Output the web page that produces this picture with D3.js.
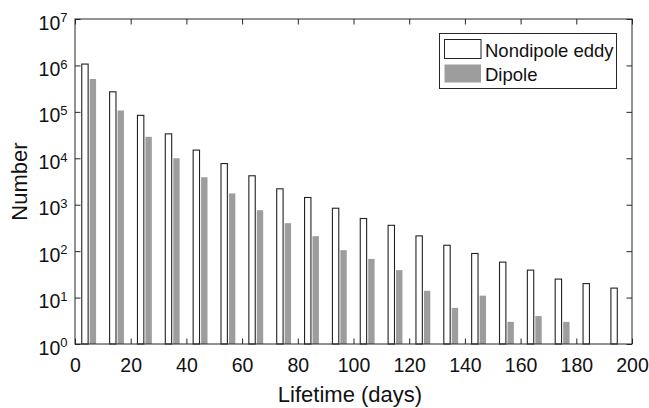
<!DOCTYPE html>
<html>
<head>
<meta charset="utf-8">
<script src="https://cdn.jsdelivr.net/npm/d3@7"></script>
<style>
  body { margin: 0; background: #fff; }
  svg { display: block; font-family: "Liberation Sans", Arial, sans-serif; }
</style>
</head>
<body>
<svg id="chart" width="649" height="408"></svg>
<script>
// Bin centres (days)
const binCenters = [5, 15, 25, 35, 45, 55, 65, 75, 85, 95, 105, 115, 125, 135, 145, 155, 165, 175, 185, 195];
// Counts per lifetime bin
const nondipole = [1070000, 270000, 84000, 33600, 15000, 7700, 4200, 2200, 1430, 840, 505, 360, 213, 134, 89, 58, 39, 25, 20, 16];
const dipole = [510000, 107000, 29000, 10000, 3900, 1750, 760, 400, 210, 105, 68, 39, 14, 6, 11, 3, 4, 3, 0, 0];
const seriesNames = ["Nondipole eddy", "Dipole"];
const xTicks = [0, 20, 40, 60, 80, 100, 120, 140, 160, 180, 200];
const yTickExps = [0, 1, 2, 3, 4, 5, 6, 7];

const svg = d3.select("#chart");
const L = 75, R = 632, T = 19, B = 344;
const axisColor = "#262626";
const textColor = "#111";
const fontFam = "'Liberation Sans', Arial, sans-serif";

const x = d3.scaleLinear().domain([0, 200]).range([L, R]);
const y = d3.scaleLog().domain([1, 1e7]).range([B, T]);

// bars
const offset = 1.43, bw = 2.29;
const barData = [];
binCenters.forEach((c, i) => {
  barData.push({ s: 0, c: c - offset, v: nondipole[i] });
  barData.push({ s: 1, c: c + offset, v: dipole[i] });
});
svg.append("g").selectAll("rect").data(barData.filter(d => d.v > 0)).join("rect")
  .attr("x", d => x(d.c - bw / 2))
  .attr("width", d => x(bw) - x(0))
  .attr("y", d => y(d.v))
  .attr("height", d => y(1) - y(d.v))
  .attr("fill", d => d.s === 0 ? "#fff" : "#9d9d9d")
  .attr("stroke", d => d.s === 0 ? "#222" : "none")
  .attr("stroke-width", 1.1);

// frame
svg.append("rect").attr("x", L).attr("y", T).attr("width", R - L).attr("height", B - T)
  .attr("fill", "none").attr("stroke", axisColor).attr("stroke-width", 1);

// axes with inward ticks
const tickLen = 5.5;
const xb = svg.append("g").attr("transform", `translate(0,${B})`)
  .call(d3.axisBottom(x).tickValues(xTicks).tickSizeInner(-tickLen).tickSizeOuter(0));
const xt = svg.append("g").attr("transform", `translate(0,${T})`)
  .call(d3.axisTop(x).tickValues(xTicks).tickSizeInner(-tickLen).tickSizeOuter(0).tickFormat(""));
const yl = svg.append("g").attr("transform", `translate(${L},0)`)
  .call(d3.axisLeft(y).tickValues(yTickExps.map(e => Math.pow(10, e))).tickSizeInner(-tickLen).tickSizeOuter(0).tickFormat(""));
const yr = svg.append("g").attr("transform", `translate(${R},0)`)
  .call(d3.axisRight(y).tickValues(yTickExps.map(e => Math.pow(10, e))).tickSizeInner(-tickLen).tickSizeOuter(0).tickFormat(""));
[xb, xt, yl, yr].forEach(g => {
  g.attr("font-family", fontFam);
  g.select(".domain").remove();
  g.selectAll(".tick line").attr("stroke", axisColor);
});
xb.selectAll(".tick text").attr("font-size", 19.5).attr("fill", textColor)
  .attr("dy", "0").attr("y", 28.4);

// y tick labels 10^n
const ylab = svg.append("g").attr("font-family", fontFam);
yTickExps.forEach(e => {
  const t = ylab.append("text").attr("x", 67.5).attr("y", y(Math.pow(10, e)) + 10.6)
    .attr("text-anchor", "end").attr("fill", textColor).attr("font-size", 19.5);
  t.append("tspan").text("10");
  t.append("tspan").attr("font-size", 13).attr("dy", -7.3).text(String(e));
});

// axis titles
svg.append("text").attr("x", 350).attr("y", 402.3).attr("text-anchor", "middle")
  .attr("font-family", fontFam).attr("font-size", 22).attr("fill", textColor).text("Lifetime (days)");
svg.append("text").attr("transform", `translate(26.7,${(T + B) / 2}) rotate(-90)`)
  .attr("font-family", fontFam).attr("text-anchor", "middle").attr("font-size", 22).attr("fill", textColor).text("Number");

// legend
const lg = svg.append("g").attr("font-family", fontFam);
lg.append("rect").attr("x", 439.5).attr("y", 33.5).attr("width", 177).attr("height", 55)
  .attr("fill", "#fff").attr("stroke", axisColor).attr("stroke-width", 1);
seriesNames.forEach((name, i) => {
  const yy = i === 0 ? 39.5 : 64.5;
  lg.append("rect").attr("x", 444.5).attr("y", yy).attr("width", 36.5).attr("height", i === 0 ? 19 : 18)
    .attr("fill", i === 0 ? "#fff" : "#9d9d9d")
    .attr("stroke", i === 0 ? "#222" : "none").attr("stroke-width", 1);
  lg.append("text").attr("x", 485).attr("y", i === 0 ? 56.7 : 81)
    .attr("font-size", 18.5).attr("fill", textColor).text(name);
});
</script>
</body>
</html>
